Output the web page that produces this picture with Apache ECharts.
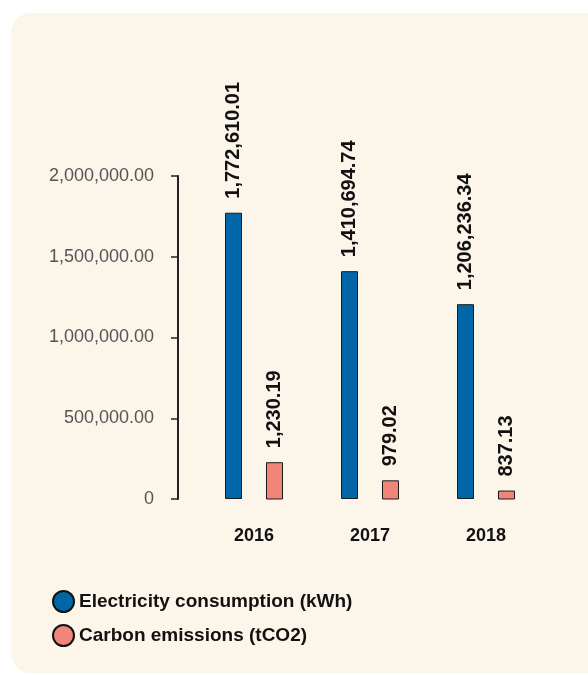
<!DOCTYPE html>
<html>
<head>
<meta charset="utf-8">
<script src="https://cdn.jsdelivr.net/npm/echarts@6/dist/echarts.min.js"></script>
<style>
  html, body { margin: 0; padding: 0; background: #ffffff; }
  #card {
    position: absolute; left: 11px; top: 13px; width: 620px; height: 660px;
    background: #fcf5ea; border-radius: 20px;
  }
  #chart { position: absolute; left: 0; top: 0; width: 588px; height: 675px; }
</style>
</head>
<body>
<div id="card"></div>
<div id="chart"></div>
<script>
const years = ['2016', '2017', '2018']
const electricity = [1772610.01, 1410694.74, 1206236.34] // kWh
const carbon = [1230.19, 979.02, 837.13] // tCO2
const yTicks = ['0', '500,000.00', '1,000,000.00', '1,500,000.00', '2,000,000.00']

const fmt = v => v.toLocaleString('en-US', {minimumFractionDigits: 2, maximumFractionDigits: 2})

const myChart = echarts.init(document.getElementById('chart'))

const labelStyle = {
  show: true,
  position: 'top',
  rotate: 90,
  align: 'left',
  verticalAlign: 'middle',
  distance: 14,
  color: '#111',
  fontSize: 20,
  fontWeight: 'bold',
  fontFamily: 'Liberation Sans, Arial, sans-serif',
  formatter: p => fmt(p.value)
}

const option = {
  textStyle: {fontFamily: 'Liberation Sans, Arial, sans-serif'},
  legend: {
    orient: 'vertical',
    left: 52,
    top: 590,
    padding: 0,
    itemWidth: 21,
    itemHeight: 21,
    itemGap: 11,
    icon: 'circle',
    itemStyle: {borderColor: '#111', borderWidth: 2},
    textStyle: {color: '#111', fontSize: 19, fontWeight: 'bold'},
    data: ['Electricity consumption (kWh)', 'Carbon emissions (tCO2)']
  },
  grid: {left: 196, right: 44, top: 176, bottom: 176},
  xAxis: {
    type: 'category',
    data: years,
    axisLine: {show: false},
    axisTick: {show: false},
    axisLabel: {margin: 28, color: '#111', fontSize: 18, fontWeight: 'bold'}
  },
  yAxis: [{
    type: 'value',
    min: 0,
    max: 2000000,
    interval: 500000,
    offset: 18,
    axisLine: {show: true, lineStyle: {color: '#222', width: 2}},
    axisTick: {show: true, length: 7, lineStyle: {color: '#222', width: 1.5}},
    splitLine: {show: false},
    axisLabel: {
      margin: 24,
      color: '#555',
      fontSize: 18,
      formatter: v => yTicks[Math.round(v / 500000)]
    }
  }, {
    // hidden scale for the emission bars
    type: 'value',
    min: 720,
    max: 5200,
    show: false
  }],
  series: [{
    name: 'Electricity consumption (kWh)',
    type: 'bar',
    yAxisIndex: 0,
    data: electricity,
    barWidth: 17,
    barGap: '141%',
    itemStyle: {color: '#0066a8', borderColor: '#1a1a1a', borderWidth: 1},
    label: labelStyle
  }, {
    name: 'Carbon emissions (tCO2)',
    type: 'bar',
    yAxisIndex: 1,
    data: carbon,
    barWidth: 17,
    barGap: '141%',
    itemStyle: {color: '#f2857a', borderColor: '#1a1a1a', borderWidth: 1},
    label: labelStyle
  }]
}

myChart.setOption(option)
window.addEventListener('resize', () => {
  myChart.resize()
})
</script>
</body>
</html>
